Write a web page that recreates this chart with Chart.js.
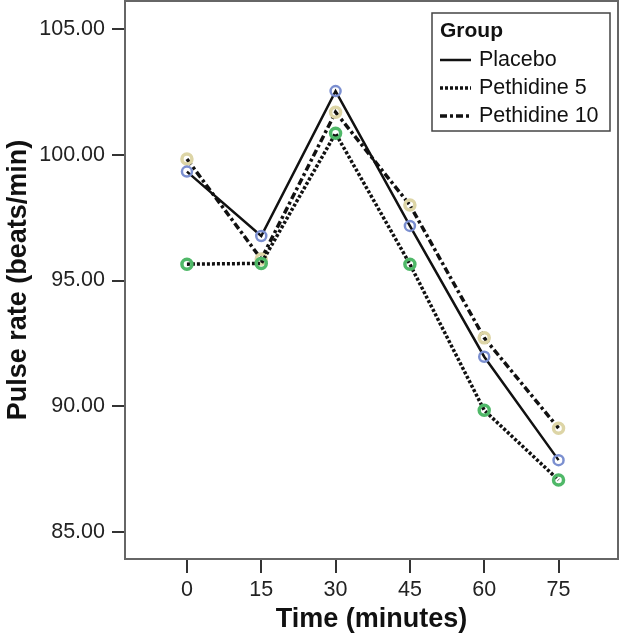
<!DOCTYPE html>
<html>
<head>
<meta charset="utf-8">
<script src="https://cdn.jsdelivr.net/npm/chart.js@4.4.1/dist/chart.umd.min.js"></script>
<style>
  html, body { margin: 0; padding: 0; background: #fff; }
</style>
</head>
<body>
<canvas id="chart" width="623" height="636"></canvas>
<script>
const times = [0, 15, 30, 45, 60, 75];
const placebo = [99.33, 96.77, 102.53, 97.17, 91.97, 87.86];
const pethidine5 = [95.65, 95.68, 100.85, 95.65, 89.84, 87.07];
const pethidine10 = [99.83, 95.85, 101.69, 98.0, 92.72, 89.13];
const yTicks = [85, 90, 95, 100, 105];
const groupNames = ["Placebo", "Pethidine 5", "Pethidine 10"];

const FONT = "'Liberation Sans', Arial, sans-serif";

function toPoints(values) {
    return times.map((t, i) => ({ x: t, y: values[i] }));
}

// box around the plot area
const frame = {
    id: "frame",
    afterDraw(chart) {
        let a = chart.chartArea;
        let ctx = chart.ctx;
        ctx.save();
        ctx.strokeStyle = "#666";
        ctx.lineWidth = 2;
        ctx.strokeRect(a.left, a.top, a.right - a.left, a.bottom - a.top);
        ctx.restore();
    }
};

// SPSS-style legend inside the top right corner
const groupLegend = {
    id: "groupLegend",
    afterDraw(chart) {
        let a = chart.chartArea;
        let ctx = chart.ctx;
        let w = 178, h = 118;
        let x = a.right - 8 - w, y = a.top + 12;
        ctx.save();
        ctx.fillStyle = "#fff";
        ctx.fillRect(x, y, w, h);
        ctx.strokeStyle = "#444";
        ctx.lineWidth = 1.5;
        ctx.strokeRect(x, y, w, h);

        ctx.fillStyle = "#111";
        ctx.textBaseline = "middle";
        ctx.font = "bold 21px " + FONT;
        ctx.fillText("Group", x + 8, y + 18);

        ctx.font = "21.5px " + FONT;
        chart.data.datasets.forEach((ds, i) => {
            let ly = y + 47 + i * 28;
            ctx.strokeStyle = "#111";
            ctx.lineWidth = ds.borderWidth;
            ctx.setLineDash(ds.borderDash || []);
            ctx.beginPath();
            ctx.moveTo(x + 8, ly);
            ctx.lineTo(x + 39, ly);
            ctx.stroke();
            ctx.setLineDash([]);
            ctx.fillText(ds.label, x + 47, ly);
        });
        ctx.restore();
    }
};

new Chart(document.getElementById("chart"), {
    type: "line",
    data: {
        datasets: [
            {
                label: groupNames[0],
                data: toPoints(placebo),
                borderColor: "#111",
                borderWidth: 2.5,
                pointBorderColor: "#7b8fd0"
            },
            {
                label: groupNames[1],
                data: toPoints(pethidine5),
                borderColor: "#111",
                borderWidth: 3.5,
                borderDash: [3, 2],
                pointBorderColor: "#4fb868"
            },
            {
                label: groupNames[2],
                data: toPoints(pethidine10),
                borderColor: "#111",
                borderWidth: 3.5,
                borderDash: [7, 3, 3, 3],
                pointBorderColor: "#ddd5a6"
            }
        ]
    },
    options: {
        responsive: false,
        animation: false,
        layout: { autoPadding: false, padding: { top: 1, right: 5, left: 0, bottom: 0 } },
        elements: {
            line: { tension: 0, fill: false },
            point: { radius: 5, borderWidth: 1.3, backgroundColor: "rgba(0,0,0,0)", hoverRadius: 5 }
        },
        plugins: {
            legend: { display: false },
            tooltip: { enabled: false }
        },
        scales: {
            x: {
                type: "linear",
                min: -12.5,
                max: 87,
                afterBuildTicks: s => { s.ticks = times.map(v => ({ value: v })); },
                afterFit: s => { s.height = 77; s.paddingLeft = 0; s.paddingRight = 0; },
                grid: { drawOnChartArea: false, tickLength: 14, color: "#333", lineWidth: 2 },
                border: { color: "#666", width: 2 },
                ticks: { font: { family: FONT, size: 21.5 }, color: "#222", padding: 4, maxRotation: 0 },
                title: {
                    display: true,
                    text: "Time (minutes)",
                    font: { family: FONT, size: 27, weight: "bold" },
                    color: "#111",
                    padding: 0
                }
            },
            y: {
                min: 83.93,
                max: 106.11,
                afterBuildTicks: s => { s.ticks = yTicks.map(v => ({ value: v })); },
                afterFit: s => { s.width = 125; s.paddingTop = 0; s.paddingBottom = 0; },
                grid: { drawOnChartArea: false, tickLength: 13, color: "#333", lineWidth: 2 },
                border: { color: "#666", width: 2 },
                ticks: {
                    font: { family: FONT, size: 21.5 },
                    color: "#222",
                    padding: 7,
                    callback: v => v.toFixed(2)
                },
                title: {
                    display: true,
                    text: "Pulse rate (beats/min)",
                    font: { family: FONT, size: 27, weight: "bold" },
                    color: "#111",
                    padding: { top: 2 }
                }
            }
        }
    },
    plugins: [frame, groupLegend]
});
</script>
</body>
</html>
